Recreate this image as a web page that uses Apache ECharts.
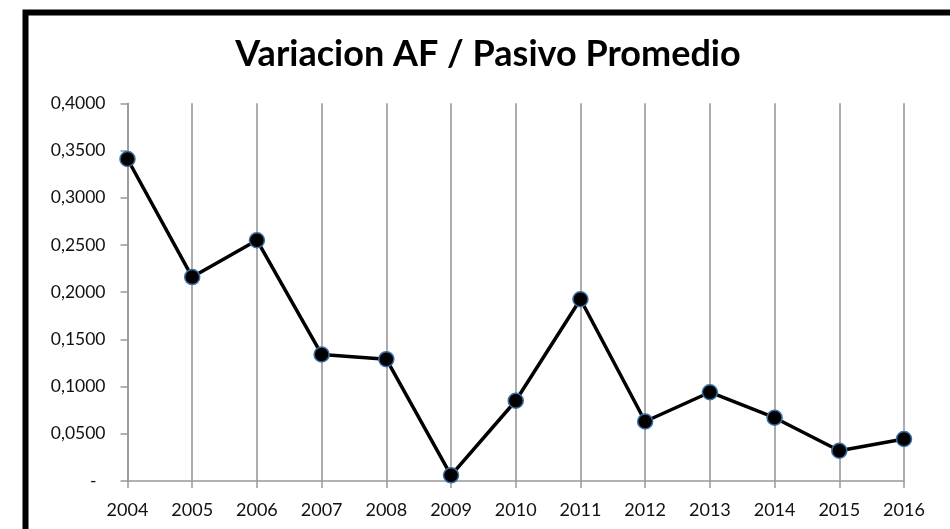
<!DOCTYPE html>
<html>
<head>
<meta charset="utf-8">
<style>
  html, body { margin: 0; padding: 0; background: #fff; }
  #chart { width: 950px; height: 529px; }
</style>
<script src="https://cdn.jsdelivr.net/npm/echarts@6/dist/echarts.min.js"></script>
</head>
<body>
<div id="chart"></div>
<script>
// Years on the category axis
const years = ['2004', '2005', '2006', '2007', '2008', '2009', '2010', '2011', '2012', '2013', '2014', '2015', '2016'];
// Ratio AF / average liabilities for each year
const ratio = [0.341, 0.216, 0.255, 0.134, 0.129, 0.006, 0.085, 0.1925, 0.063, 0.094, 0.067, 0.032, 0.0445];
// Value axis range and step
const yMin = 0;
const yMax = 0.4;
const yStep = 0.05;

const chart = echarts.init(document.getElementById('chart'), null, { renderer: 'canvas' });

function fmtTick(v) {
  if (Math.abs(v) < 1e-9) return '{z|-}';
  return v.toFixed(4).replace('.', ',');
}

chart.setOption({
  backgroundColor: '#ffffff',
  animation: false,
  title: {
    text: 'Variacion AF / Pasivo Promedio',
    left: 483,
    top: 31,
    textAlign: 'center',
    textStyle: {
      fontFamily: 'Lato',
      fontWeight: 'bold',
      fontSize: 36,
      color: '#000'
    }
  },
  graphic: [
    {
      type: 'rect',
      silent: true,
      shape: { x: 25.5, y: 12.5, width: 1000, height: 600 },
      style: { fill: 'none', stroke: '#000', lineWidth: 6 }
    }
  ],
  grid: { left: 127.5, right: 46, top: 103.3, bottom: 48, containLabel: false },
  xAxis: {
    type: 'category',
    data: years,
    boundaryGap: false,
    axisLine: { lineStyle: { color: '#999', width: 1.5 } },
    axisTick: { show: true, length: 7, alignWithLabel: true, lineStyle: { color: '#999', width: 1.5 } },
    axisLabel: { margin: 20, fontFamily: 'Lato', fontSize: 18, color: '#111' },
    splitLine: { show: true, lineStyle: { color: '#999', width: 1.6 } }
  },
  yAxis: {
    type: 'value',
    min: yMin,
    max: yMax,
    interval: yStep,
    axisLine: { show: true, lineStyle: { color: '#999', width: 1.5 } },
    axisTick: { show: true, length: 7, lineStyle: { color: '#999', width: 1.5 } },
    axisLabel: {
      margin: 22,
      fontFamily: 'Lato',
      fontSize: 17.5,
      color: '#111',
      formatter: fmtTick,
      rich: { z: { fontFamily: 'Lato', fontSize: 17.5, color: '#111', padding: [0, 9, 0, 0] } }
    },
    splitLine: { show: false }
  },
  series: [
    {
      type: 'line',
      data: ratio,
      symbol: 'circle',
      symbolSize: 15,
      lineStyle: { color: '#000', width: 3.5 },
      itemStyle: { color: '#000', borderColor: '#3a6ea5', borderWidth: 1.5 }
    }
  ]
});
</script>
</body>
</html>
